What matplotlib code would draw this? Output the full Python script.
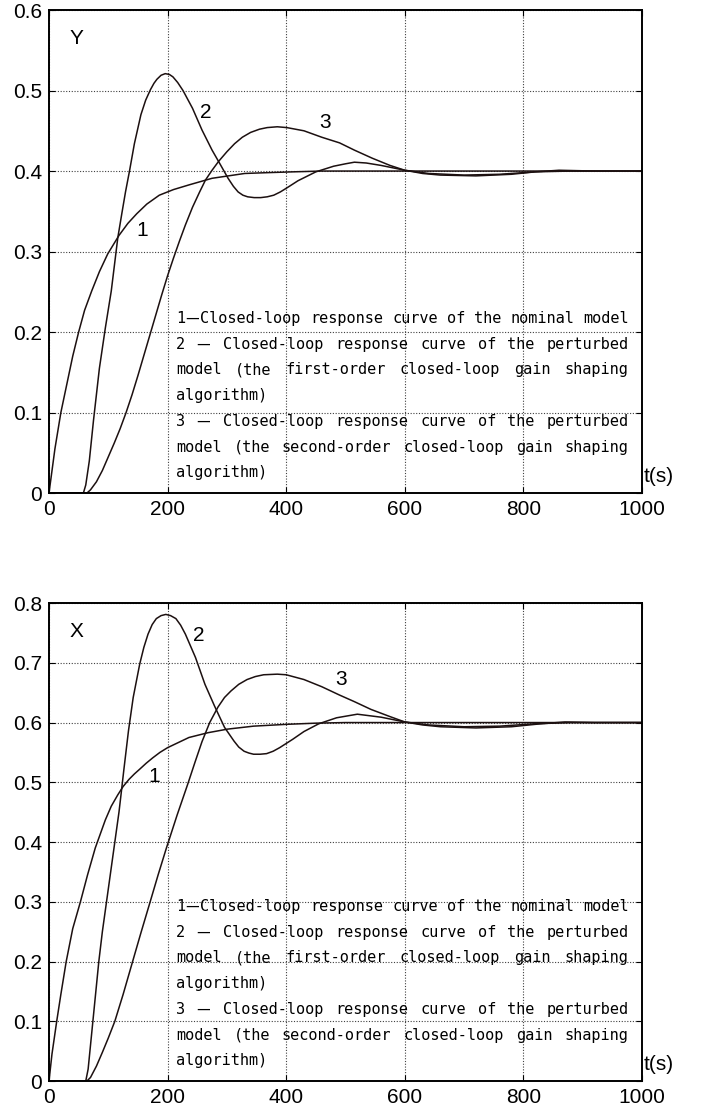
import re
import matplotlib
matplotlib.use("Agg")
import matplotlib.pyplot as plt
from matplotlib.transforms import offset_copy

# ===== Data =====
# upper panel (Y)
T_Y1 = [0, 10, 20, 30, 40, 50, 60, 72, 85, 99, 118, 133, 148, 165, 186, 210, 237, 275, 330, 368, 411, 460, 1000]
Y1 = [0, 0.055, 0.10, 0.135, 0.17, 0.20, 0.227, 0.251, 0.275, 0.297, 0.32, 0.335, 0.347, 0.359, 0.370, 0.377,
      0.383, 0.391, 0.397, 0.398, 0.399, 0.400, 0.400]

T_Y2 = [0, 58, 62, 68, 75, 85, 95, 105, 116, 123, 129, 136, 144, 155, 163, 171, 177, 182, 189, 196, 203, 209,
        217, 226, 242, 258, 275, 289, 302, 311, 319, 327, 335, 346, 357, 368, 379, 390, 401, 420, 450, 480, 500,
        515, 535, 560, 600, 640, 700, 760, 820, 880, 1000]
Y2 = [0, 0, 0.01, 0.04, 0.09, 0.155, 0.205, 0.251, 0.317, 0.348, 0.374, 0.401, 0.434, 0.470, 0.488, 0.501,
      0.509, 0.514, 0.519, 0.521, 0.520, 0.517, 0.510, 0.500, 0.478, 0.451, 0.426, 0.408, 0.391, 0.381, 0.374,
      0.370, 0.368, 0.367, 0.367, 0.368, 0.370, 0.374, 0.379, 0.388, 0.399, 0.406, 0.409, 0.411, 0.410, 0.407,
      0.401, 0.397, 0.395, 0.396, 0.399, 0.400, 0.400]

T_Y3 = [0, 64, 70, 80, 90, 100, 110, 120, 130, 140, 150, 160, 170, 180, 190, 200, 210, 220, 230, 242, 254, 264,
        275, 286, 300, 313, 326, 340, 355, 368, 385, 401, 430, 460, 490, 515, 545, 575, 600, 630, 660, 720, 780,
        820, 860, 920, 1000]
Y3 = [0, 0, 0.004, 0.014, 0.028, 0.045, 0.062, 0.080, 0.100, 0.122, 0.146, 0.171, 0.196, 0.221, 0.246, 0.270,
      0.292, 0.313, 0.333, 0.355, 0.374, 0.389, 0.401, 0.412, 0.424, 0.434, 0.442, 0.448, 0.452, 0.454, 0.455,
      0.454, 0.450, 0.442, 0.435, 0.426, 0.416, 0.407, 0.401, 0.397, 0.395, 0.394, 0.396, 0.399, 0.401, 0.400,
      0.400]

# lower panel (X)
T_X1 = [0, 5, 13, 20, 29, 40, 53, 65, 78, 95, 105, 116, 125, 135, 144, 153, 164, 175, 187, 200, 236, 268, 301,
        345, 400, 450, 500, 1000]
X1 = [0, 0.045, 0.10, 0.145, 0.20, 0.255, 0.30, 0.345, 0.39, 0.437, 0.46, 0.479, 0.493, 0.505, 0.514, 0.522,
      0.532, 0.541, 0.550, 0.558, 0.575, 0.583, 0.589, 0.594, 0.597, 0.599, 0.600, 0.600]

T_X2 = [0, 62, 66, 74, 84, 90, 97, 104, 111, 118, 122, 126, 134, 142, 153, 160, 167, 174, 181, 189, 197, 205,
        214, 222, 230, 247, 263, 279, 296, 312, 320, 329, 337, 345, 356, 367, 378, 389, 411, 430, 455, 485, 520,
        560, 600, 640, 700, 760, 820, 880, 1000]
X2 = [0, 0, 0.02, 0.10, 0.20, 0.25, 0.30, 0.35, 0.40, 0.45, 0.484, 0.519, 0.586, 0.642, 0.698, 0.726, 0.748,
      0.764, 0.774, 0.779, 0.781, 0.779, 0.774, 0.763, 0.748, 0.709, 0.664, 0.628, 0.592, 0.569, 0.559, 0.552,
      0.549, 0.547, 0.547, 0.548, 0.552, 0.558, 0.572, 0.585, 0.598, 0.608, 0.614, 0.609, 0.601, 0.596, 0.593,
      0.594, 0.598, 0.600, 0.600]

T_X3 = [0, 64, 70, 80, 90, 100, 111, 125, 141, 155, 170, 184, 198, 216, 234, 246, 258, 271, 285, 296, 307, 320,
        334, 348, 362, 385, 400, 430, 460, 490, 515, 543, 575, 600, 630, 660, 720, 780, 830, 870, 920, 1000]
X3 = [0, 0, 0.006, 0.025, 0.048, 0.072, 0.10, 0.145, 0.20, 0.248, 0.298, 0.345, 0.39, 0.445, 0.497, 0.533,
      0.568, 0.600, 0.626, 0.642, 0.653, 0.664, 0.672, 0.677, 0.680, 0.681, 0.680, 0.672, 0.660, 0.646, 0.635,
      0.622, 0.61, 0.601, 0.596, 0.593, 0.591, 0.593, 0.598, 0.601, 0.600, 0.600]

X_TICKS = [0, 200, 400, 600, 800, 1000]
Y_TICKS_TOP = [0, 0.1, 0.2, 0.3, 0.4, 0.5, 0.6]
Y_LABELS_TOP = ["0", "0.1", "0.2", "0.3", "0.4", "0.5", "0.6"]
Y_TICKS_BOT = [0, 0.1, 0.2, 0.3, 0.4, 0.5, 0.6, 0.7, 0.8]
Y_LABELS_BOT = ["0", "0.1", "0.2", "0.3", "0.4", "0.5", "0.6", "0.7", "0.8"]

# curve number labels: (text, t, value)
LABELS_TOP = [("1", 157, 0.326), ("2", 264, 0.473), ("3", 465, 0.460)]
LABELS_BOT = [("1", 178, 0.510), ("2", 252, 0.746), ("3", 493, 0.672)]

NOTE_LINES = [
    ("1—Closed-loop response curve of the nominal model", True),
    ("2 — Closed-loop response curve of the perturbed", True),
    ("model (the first-order closed-loop gain shaping", True),
    ("algorithm)", False),
    ("3 — Closed-loop response curve of the perturbed", True),
    ("model (the second-order closed-loop gain shaping", True),
    ("algorithm)", False),
]

# ===== Style =====
DPI = 100
LINE_COLOR = "#1c1010"
SANS = "Liberation Sans"
MONO = "DejaVu Sans Mono"
CJK = "Noto Sans CJK SC"
TICK_FS = 15
NOTE_FS = 11
CW = 0.602 * NOTE_FS * DPI / 72   # mono advance, px
EM = NOTE_FS * DPI / 72           # full-width dash, px


def draw_note(fig, ax):
    left, width = 127, 453        # px from axes left
    base0, step = 170, 25.7       # baselines, px above axes bottom
    for i, (line, justify) in enumerate(NOTE_LINES):
        words = line.split(" ")
        widths = [sum(EM if p == "—" else len(p) * CW for p in re.split("(—)", w) if p) for w in words]
        gap = (width - sum(widths)) / (len(words) - 1) if justify and len(words) > 1 else CW
        x = left
        y = base0 - i * step
        for w, wd in zip(words, widths):
            xc = x
            for p in re.split("(—)", w):
                if not p:
                    continue
                tr = offset_copy(ax.transAxes, fig=fig, x=xc, y=y, units="dots")
                if p == "—":
                    ax.text(0, 0, p, transform=tr, family=CJK, fontsize=NOTE_FS, va="baseline", ha="left")
                    xc += EM
                else:
                    ax.text(0, 0, p, transform=tr, family=MONO, fontsize=NOTE_FS, va="baseline", ha="left")
                    xc += len(p) * CW
            x += wd + gap


def draw_panel(fig, ax, curves, yticks, ylabels, name, name_pos, labels):
    for t, v in curves:
        ax.plot(t, v, color=LINE_COLOR, lw=1.1)
    ax.set_xlim(0, 1000)
    ax.set_ylim(yticks[0], yticks[-1])
    ax.set_xticks(X_TICKS)
    ax.set_xticklabels([str(x) for x in X_TICKS], family=SANS, fontsize=TICK_FS)
    ax.set_yticks(yticks)
    ax.set_yticklabels(ylabels, family=SANS, fontsize=TICK_FS)
    ax.tick_params(direction="in", top=True, right=True, length=4, width=0.8, pad=5)
    ax.grid(True, color="0.25", linestyle=(0, (1, 1.5)), linewidth=0.8)
    for s in ax.spines.values():
        s.set_linewidth(1.4)
    ax.text(name_pos[0], name_pos[1], name, family=SANS, fontsize=TICK_FS, ha="center", va="center")
    for txt, t, v in labels:
        ax.text(t, v, txt, family=SANS, fontsize=TICK_FS, ha="center", va="center")
    ax.text(1.003, 0.035, "t(s)", transform=ax.transAxes, family=SANS, fontsize=TICK_FS, ha="left", va="center")
    draw_note(fig, ax)


def main():
    fig = plt.figure(figsize=(7.01, 11.17), dpi=DPI)
    ax_top = fig.add_axes([0.0699, 0.5586, 0.8459, 0.4324])
    ax_bot = fig.add_axes([0.0699, 0.0322, 0.8459, 0.4279])

    draw_panel(fig, ax_top, [(T_Y1, Y1), (T_Y2, Y2), (T_Y3, Y3)],
               Y_TICKS_TOP, Y_LABELS_TOP, "Y", (46, 0.565), LABELS_TOP)
    draw_panel(fig, ax_bot, [(T_X1, X1), (T_X2, X2), (T_X3, X3)],
               Y_TICKS_BOT, Y_LABELS_BOT, "X", (46, 0.752), LABELS_BOT)

    fig.savefig("out.png", dpi=DPI)


if __name__ == "__main__":
    main()
